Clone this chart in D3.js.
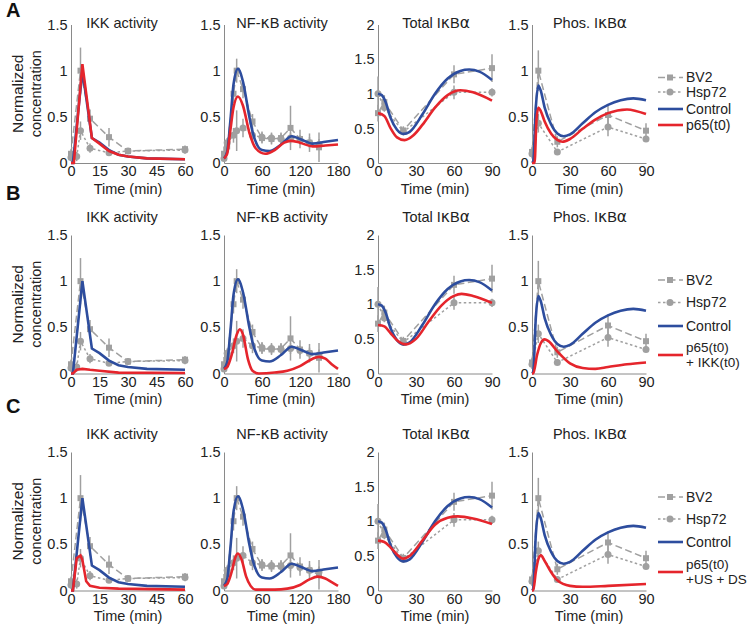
<!DOCTYPE html>
<html>
<head>
<meta charset="utf-8">
<script src="https://cdn.jsdelivr.net/npm/d3@7"></script>
<style>
  body { margin: 0; background: #fff; }
  svg { font-family: "Liberation Sans", Arial, sans-serif; }
</style>
</head>
<body>
<svg id="fig" width="750" height="629"></svg>
<script>
// ---- experimental data (same in every row) ----
var ikkBv2T = [0, 5, 10, 20, 30, 60]
  , ikkBv2 = [0.1, 1.0, 0.48, 0.28, 0.13, 0.15]
  , ikkBv2Err = [0.05, 0.25, 0.1, 0.1, 0.03, 0.04]
  , ikkHspT = [0, 3, 5, 10, 20, 30, 60]
  , ikkHsp = [0.06, 0.07, 0.35, 0.16, 0.11, 0.13, 0.14]
  , ikkHspErr = [0.04, 0.05, 0.1, 0.05, 0.03, 0.03, 0.04];

var nfkbBv2T = [0, 5, 15, 20, 30, 45, 60, 75, 90, 105, 120, 135, 150]
  , nfkbBv2 = [0.1, 0.18, 0.75, 1.0, 0.8, 0.45, 0.27, 0.26, 0.27, 0.38, 0.26, 0.22, 0.17]
  , nfkbBv2Err = [0.08, 0.05, 0.1, 0.13, 0.1, 0.08, 0.06, 0.06, 0.06, 0.24, 0.1, 0.1, 0.16]
  , nfkbHspT = [0, 5, 15, 20, 30, 45, 60, 75, 90, 105, 120, 135, 150]
  , nfkbHsp = [0.05, 0.22, 0.3, 0.35, 0.38, 0.3, 0.28, 0.27, 0.26, 0.27, 0.25, 0.22, 0.2]
  , nfkbHspErr = [0.03, 0.05, 0.08, 0.22, 0.1, 0.08, 0.06, 0.06, 0.06, 0.06, 0.05, 0.06, 0.06];

var totBv2T = [0, 5, 20, 60, 90]
  , totBv2 = [0.72, 0.88, 0.47, 1.28, 1.37]
  , totBv2Err = [0.12, 0.1, 0.06, 0.13, 0.2]
  , totHspT = [0, 5, 20, 60, 90]
  , totHsp = [1.0, 0.8, 0.45, 1.02, 1.02]
  , totHspErr = [0.25, 0.06, 0.05, 0.1, 0.06];

var phosBv2T = [0, 5, 20, 60, 90]
  , phosBv2 = [0.12, 1.0, 0.23, 0.52, 0.35]
  , phosBv2Err = [0.05, 0.22, 0.06, 0.12, 0.08]
  , phosHspT = [0, 5, 20, 60, 90]
  , phosHsp = [0.1, 0.43, 0.12, 0.39, 0.26]
  , phosHspErr = [0.05, 0.1, 0.03, 0.1, 0.03];

// ---- model curves [time, value] ----
var ikkCtrl = [[0,0],[1,0],[6,1.0],[11,0.27],[15,0.22],[20,0.14],[25,0.09],[30,0.07],[40,0.05],[60,0.04]]
  , ikkRedA = [[0,0],[1.5,0],[6,1.07],[11,0.27],[15,0.21],[20,0.13],[25,0.09],[30,0.07],[40,0.05],[60,0.04]]
  , ikkRedB = [[0,0],[1,0],[3,0.04],[6,0.05],[10,0.04],[15,0.03],[25,0.01],[60,0.005]]
  , ikkRedC = [[0,0],[1,0],[3,0.35],[5,0.38],[6,0.33],[8,0.1],[10,0.05],[15,0.03],[25,0.02],[60,0.01]];

var nfkbCtrl = [[0,0.05],[5,0.12],[10,0.45],[15,0.85],[22,1.02],[30,0.88],[40,0.5],[45,0.34],[52,0.2],[60,0.14],[72,0.13],[90,0.2],[107,0.29],[120,0.26],[140,0.21],[160,0.23],[180,0.25]]
  , nfkbRedA = [[0,0.05],[5,0.1],[10,0.35],[15,0.6],[22,0.72],[30,0.62],[40,0.33],[50,0.16],[65,0.1],[80,0.14],[95,0.22],[105,0.24],[120,0.22],[140,0.18],[160,0.19],[180,0.2]]
  , nfkbRedB = [[0,0.05],[5,0.07],[12,0.2],[20,0.42],[25,0.48],[30,0.42],[38,0.15],[45,0.03],[55,0.0],[80,0.01],[100,0.03],[120,0.08],[140,0.16],[150,0.18],[160,0.16],[170,0.1],[180,0.05]]
  , nfkbRedC = [[0,0.05],[5,0.07],[12,0.2],[18,0.36],[22,0.4],[28,0.33],[35,0.15],[42,0.05],[50,0.01],[80,0.01],[100,0.02],[120,0.06],[135,0.12],[148,0.15],[160,0.13],[170,0.09],[180,0.05]];

var totCtrl = [[0,1.0],[3,0.98],[6,0.88],[10,0.65],[15,0.48],[20,0.42],[25,0.45],[35,0.7],[45,1.0],[55,1.22],[65,1.33],[72,1.35],[80,1.32],[90,1.2]]
  , totRedA = [[0,0.72],[5,0.68],[10,0.5],[15,0.37],[21,0.33],[28,0.4],[35,0.55],[45,0.8],[55,0.98],[65,1.05],[75,1.02],[90,0.9]]
  , totRedB = [[0,0.7],[5,0.68],[10,0.58],[15,0.48],[22,0.42],[30,0.5],[40,0.75],[50,0.98],[60,1.12],[66,1.15],[75,1.12],[90,1.02]]
  , totRedC = [[0,0.72],[5,0.7],[10,0.62],[15,0.52],[20,0.46],[25,0.5],[35,0.72],[45,0.95],[55,1.05],[63,1.07],[75,1.04],[90,0.96]];

var phosCtrl = [[0,0],[1,0.02],[3,0.6],[5,0.84],[7,0.78],[10,0.6],[15,0.42],[20,0.32],[25,0.29],[30,0.31],[40,0.43],[50,0.55],[60,0.63],[70,0.68],[80,0.7],[90,0.68]]
  , phosRedA = [[0,0],[2,0],[3.5,0.45],[5,0.6],[7,0.56],[10,0.45],[15,0.32],[20,0.25],[24,0.23],[30,0.26],[40,0.37],[50,0.47],[60,0.54],[75,0.58],[90,0.53]]
  , phosRedB = [[0,0],[1,0],[4,0.2],[7,0.33],[10,0.37],[13,0.35],[20,0.24],[30,0.11],[40,0.06],[50,0.05],[60,0.07],[75,0.1],[90,0.12]]
  , phosRedC = [[0,0],[1,0],[3,0.2],[5,0.34],[7,0.38],[10,0.32],[15,0.2],[20,0.11],[30,0.05],[40,0.04],[60,0.05],[90,0.07]];

// ---- labels / ticks ----
// titles split into [latin, greek] runs so the greek letters can use a wider face
var titles = [[['IKK activity', 0]], [['NF-', 0], ['\u03ba', 1], ['B activity', 0]],
              [['Total I', 0], ['\u03ba', 1], ['B', 0], ['\u03b1', 1]], [['Phos. I', 0], ['\u03ba', 1], ['B', 0], ['\u03b1', 1]]]
  , xMaxes = [60, 180, 90, 90]
  , xTicks = [[0,15,30,45,60], [0,60,120,180], [0,30,60,90], [0,30,60,90]]
  , yMaxes = [1.5, 1.5, 2, 1.5]
  , yTicks = [[0,0.5,1,1.5], [0,0.5,1,1.5], [0,0.5,1,1.5,2], [0,0.5,1,1.5]]
  , rowLetters = ['A', 'B', 'C']
  , redLabels = [['p65(t0)'], ['p65(t0)', '+ IKK(t0)'], ['p65(t0)', '+US + DS']];

var panelData = [
  {bv2: [ikkBv2T, ikkBv2, ikkBv2Err], hsp: [ikkHspT, ikkHsp, ikkHspErr], ctrl: ikkCtrl, red: [ikkRedA, ikkRedB, ikkRedC], linear: true},
  {bv2: [nfkbBv2T, nfkbBv2, nfkbBv2Err], hsp: [nfkbHspT, nfkbHsp, nfkbHspErr], ctrl: nfkbCtrl, red: [nfkbRedA, nfkbRedB, nfkbRedC]},
  {bv2: [totBv2T, totBv2, totBv2Err], hsp: [totHspT, totHsp, totHspErr], ctrl: totCtrl, red: [totRedA, totRedB, totRedC]},
  {bv2: [phosBv2T, phosBv2, phosBv2Err], hsp: [phosHspT, phosHsp, phosHspErr], ctrl: phosCtrl, red: [phosRedA, phosRedB, phosRedC]}
];

// ---- layout ----
var W = 114, H = 138.5
  , lefts = [71, 224, 378, 532]
  , rowTops = [24.5, 235, 452]
  , titleDy = [3.5, -13.5, -13.5]
  , letterY = [17, 200, 413]
  , legendDy = [[53, 67.5, 84.5, 100.5], [45, 67.5, 91, 120], [45, 67, 90, 120]]
  , gray = '#a0a0a0'
  , axisGray = '#8a8a8a'
  , blue = '#2d4d9e'
  , red = '#e5252c'
  , fs = 14.5;

var svg = d3.select('#fig');

rowTops.forEach(function (top, r) {
  var g = svg.append('g');

  g.append('text')
    .attr('x', 6).attr('y', letterY[r])
    .attr('font-size', 20).attr('font-weight', 'bold').attr('fill', '#111')
    .text(rowLetters[r]);

  var yl = g.append('text')
    .attr('transform', 'translate(0,' + (top + H / 2) + ') rotate(-90)')
    .attr('text-anchor', 'middle').attr('font-size', fs).attr('fill', '#222');
  yl.append('tspan').attr('x', 0).attr('y', 23).attr('font-size', 15.5).text('Normalized');
  yl.append('tspan').attr('x', 0).attr('y', 41).text('concentration');

  panelData.forEach(function (pd, p) {
    var left = lefts[p];
    var x = d3.scaleLinear().domain([0, xMaxes[p]]).range([left, left + W]);
    var y = d3.scaleLinear().domain([0, yMaxes[p]]).range([top + H, top]);

    var ax = g.append('g').attr('transform', 'translate(0,' + (top + H) + ')')
      .call(d3.axisBottom(x).tickValues(xTicks[p]).tickSize(0).tickPadding(3));
    var ay = g.append('g').attr('transform', 'translate(' + left + ',0)')
      .call(d3.axisLeft(y).tickValues(yTicks[p]).tickSize(0).tickPadding(3.5).tickFormat(String));
    [ax, ay].forEach(function (a) {
      a.select('.domain').attr('stroke', axisGray).attr('stroke-width', 1);
      a.selectAll('text').attr('font-size', fs).attr('fill', '#222')
        .attr('font-family', '"Liberation Sans", Arial, sans-serif');
    });

    var tt = g.append('text')
      .attr('x', left + W / 2 + (p === 0 ? -6 : 1)).attr('y', top + titleDy[r])
      .attr('text-anchor', 'middle').attr('font-size', fs).attr('fill', '#222');
    titles[p].forEach(function (run) {
      var ts = tt.append('tspan').text(run[0]);
      if (run[1]) ts.attr('font-family', '"DejaVu Sans", sans-serif').attr('font-size', 15.5);
    });

    g.append('text')
      .attr('x', left + W / 2).attr('y', top + H + 30.5)
      .attr('text-anchor', 'middle').attr('font-size', fs).attr('fill', '#222')
      .text('Time (min)');

    // experimental series
    [['bv2', '7,3.5'], ['hsp', '2.5,2.5']].forEach(function (s) {
      var src = pd[s[0]];
      var pts = src[0].map(function (t, i) { return {t: t, v: src[1][i], e: src[2][i]}; });
      g.append('path').datum(pts)
        .attr('fill', 'none').attr('stroke', gray).attr('stroke-width', 1.5)
        .attr('stroke-dasharray', s[1])
        .attr('d', d3.line().x(function (d) { return x(d.t); }).y(function (d) { return y(d.v); }));
      g.selectAll(null).data(pts).enter().append('line')
        .attr('x1', function (d) { return x(d.t); }).attr('x2', function (d) { return x(d.t); })
        .attr('y1', function (d) { return y(Math.max(0, d.v - d.e)); })
        .attr('y2', function (d) { return y(d.v + d.e); })
        .attr('stroke', gray).attr('stroke-width', 1.5);
      if (s[0] === 'bv2') {
        g.selectAll(null).data(pts).enter().append('rect')
          .attr('x', function (d) { return x(d.t) - 3; }).attr('y', function (d) { return y(d.v) - 3; })
          .attr('width', 6).attr('height', 6).attr('fill', gray);
      } else {
        g.selectAll(null).data(pts).enter().append('circle')
          .attr('cx', function (d) { return x(d.t); }).attr('cy', function (d) { return y(d.v); })
          .attr('r', 3.5).attr('fill', gray);
      }
    });

    // model curves
    var line = d3.line()
      .x(function (d) { return x(d[0]); }).y(function (d) { return y(d[1]); })
      .curve(pd.linear ? d3.curveLinear : d3.curveMonotoneX);
    g.append('path').datum(pd.ctrl)
      .attr('fill', 'none').attr('stroke', blue).attr('stroke-width', 2.6).attr('d', line);
    g.append('path').datum(pd.red[r])
      .attr('fill', 'none').attr('stroke', red).attr('stroke-width', 2.6).attr('d', line);
  });

  // legend
  var lx0 = 658, lx1 = 683, tx = 686, ly = legendDy[r].map(function (d) { return top + d; });
  var lg = g.append('g');
  lg.append('line').attr('x1', lx0).attr('x2', lx1).attr('y1', ly[0]).attr('y2', ly[0])
    .attr('stroke', gray).attr('stroke-width', 1.5).attr('stroke-dasharray', '7,3.5');
  lg.append('rect').attr('x', 667).attr('y', ly[0] - 3).attr('width', 6).attr('height', 6).attr('fill', gray);
  lg.append('line').attr('x1', lx0).attr('x2', lx1).attr('y1', ly[1]).attr('y2', ly[1])
    .attr('stroke', gray).attr('stroke-width', 1.5).attr('stroke-dasharray', '2.5,2.5');
  lg.append('circle').attr('cx', 670).attr('cy', ly[1]).attr('r', 3.5).attr('fill', gray);
  lg.append('line').attr('x1', lx0).attr('x2', lx1).attr('y1', ly[2]).attr('y2', ly[2])
    .attr('stroke', blue).attr('stroke-width', 2.6);
  lg.append('line').attr('x1', lx0).attr('x2', lx1).attr('y1', ly[3]).attr('y2', ly[3])
    .attr('stroke', red).attr('stroke-width', 2.6);

  var texts = [['BV2'], ['Hsp72'], ['Control'], redLabels[r]];
  texts.forEach(function (lines, i) {
    var y0 = ly[i] - (lines.length - 1) * 7.5;
    lines.forEach(function (s, k) {
      lg.append('text').attr('font-size', lines.length > 1 ? 13.5 : 14).attr('fill', '#222')
        .attr('x', tx).attr('y', y0 + k * 15).attr('dy', '0.35em').text(s);
    });
  });
});
</script>
</body>
</html>
